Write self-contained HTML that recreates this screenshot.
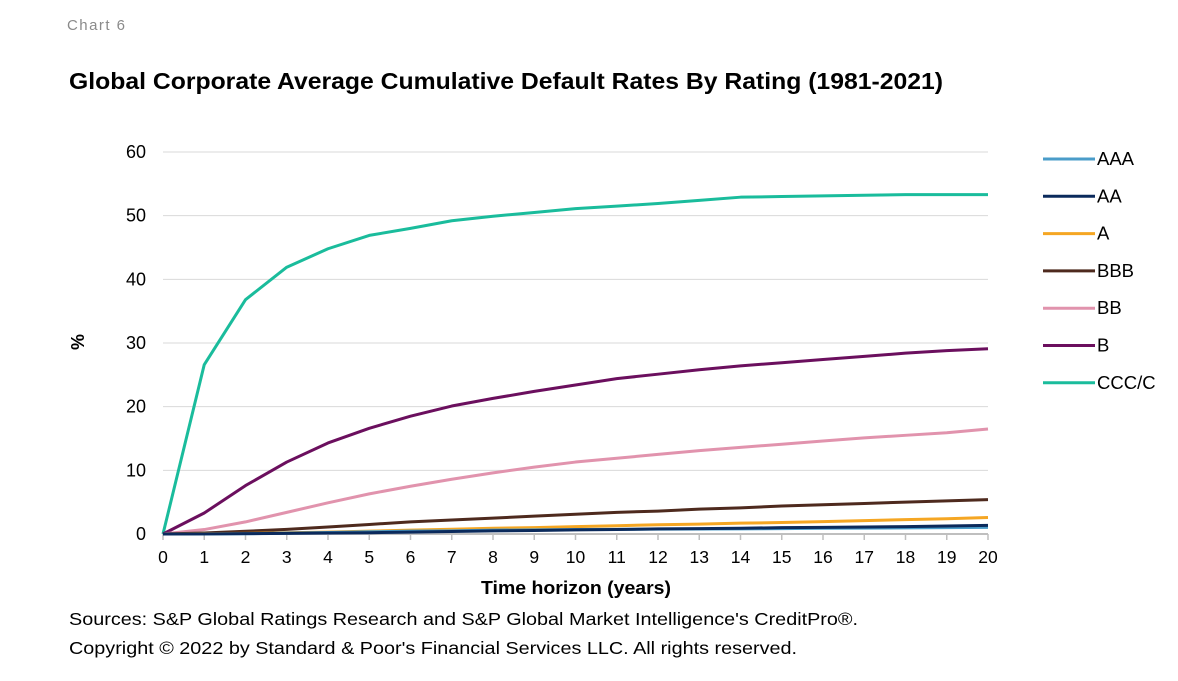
<!DOCTYPE html>
<html><head><style>
body{margin:0;background:#fff;width:1178px;height:676px;overflow:hidden;font-family:"Liberation Sans",Arial,sans-serif}
</style></head><body>
<svg id="s" width="1178" height="676" xmlns="http://www.w3.org/2000/svg" font-family="Liberation Sans, Arial, sans-serif">
<text x="67" y="30" font-size="15" fill="#8a8a8a" textLength="58">Chart 6</text>
<text x="69" y="89" font-size="23" font-weight="bold" fill="#000" textLength="874" lengthAdjust="spacingAndGlyphs">Global Corporate Average Cumulative Default Rates By Rating (1981-2021)</text>
<g id="grid"></g>
<text transform="translate(84,342) rotate(-90)" text-anchor="middle" font-size="18" font-weight="bold">%</text>
<text x="481" y="594" font-size="18" font-weight="bold" textLength="190" lengthAdjust="spacingAndGlyphs">Time horizon (years)</text>
<text x="69" y="625" font-size="17.5" textLength="789" lengthAdjust="spacingAndGlyphs">Sources: S&amp;P Global Ratings Research and S&amp;P Global Market Intelligence's CreditPro®.</text>
<text x="69" y="654" font-size="17.5" textLength="728" lengthAdjust="spacingAndGlyphs">Copyright © 2022 by Standard &amp; Poor's Financial Services LLC. All rights reserved.</text>
<g id="series"></g>
<g id="legend"></g>
</svg>
<script>
const NS="http://www.w3.org/2000/svg";
const X=v=>163+v*41.25, Y=v=>534-v*6.367;
function el(p,t,a,txt){const e=document.createElementNS(NS,t);for(const k in a)e.setAttribute(k,a[k]);if(txt!==undefined)e.textContent=txt;p.appendChild(e);return e;}
const g=document.getElementById('grid');
for(let i=1;i<=6;i++){el(g,'line',{x1:163,x2:988,y1:Y(i*10),y2:Y(i*10),stroke:'#d9d9d9','stroke-width':1});}
for(let i=0;i<=6;i++)el(g,'text',{x:146,y:Y(i*10)+6,'text-anchor':'end','font-size':18},String(i*10));
el(g,'line',{x1:163,x2:988,y1:534,y2:534,stroke:'#bfbfbf','stroke-width':2});
for(let i=0;i<=20;i++){el(g,'line',{x1:X(i),x2:X(i),y1:534,y2:540,stroke:'#bfbfbf','stroke-width':1.5});el(g,'text',{x:X(i),y:563,'text-anchor':'middle','font-size':17.5},String(i));}
const S=[
["AAA","#4a9cc9",[0,0,0.03,0.13,0.24,0.35,0.45,0.5,0.6,0.65,0.7,0.73,0.76,0.78,0.8,0.85,0.9,0.93,0.96,1,1.05]],
["AA","#0b2a5c",[0,0.02,0.05,0.1,0.15,0.2,0.3,0.4,0.5,0.55,0.65,0.7,0.8,0.85,0.9,1.0,1.05,1.1,1.15,1.25,1.35]],
["A","#f5a623",[0,0.05,0.1,0.2,0.3,0.45,0.6,0.75,0.9,1.0,1.15,1.3,1.45,1.55,1.7,1.8,1.95,2.1,2.25,2.4,2.6]],
["BBB","#4e2a1e",[0,0.15,0.43,0.72,1.1,1.5,1.9,2.2,2.5,2.8,3.1,3.4,3.6,3.9,4.1,4.4,4.6,4.8,5,5.2,5.4]],
["BB","#e193ad",[0,0.7,1.9,3.4,4.9,6.3,7.5,8.6,9.6,10.5,11.3,11.9,12.5,13.1,13.6,14.1,14.6,15.1,15.5,15.9,16.5]],
["B","#6b0f5e",[0,3.3,7.6,11.3,14.3,16.6,18.5,20.1,21.3,22.4,23.4,24.4,25.1,25.8,26.4,26.9,27.4,27.9,28.4,28.8,29.1]],
["CCC/C","#1abc9c",[0,26.6,36.8,41.9,44.8,46.9,48,49.2,49.9,50.5,51.1,51.5,51.9,52.4,52.9,53,53.1,53.2,53.3,53.3,53.3]]];
const sg=document.getElementById('series'),lg=document.getElementById('legend');
const order=[6,5,4,3,2,0,1];
order.forEach(i=>{const s=S[i];el(sg,'polyline',{points:s[2].map((v,j)=>X(j)+','+Y(v)).join(' '),fill:'none',stroke:s[1],'stroke-width':3,'stroke-linejoin':'round'});});
S.forEach((s,i)=>{const y=159+i*37.3;el(lg,'line',{x1:1043,x2:1095,y1:y,y2:y,stroke:s[1],'stroke-width':3});el(lg,'text',{x:1097,y:y+6,'font-size':18.5},s[0]);});
</script>
</body></html>
